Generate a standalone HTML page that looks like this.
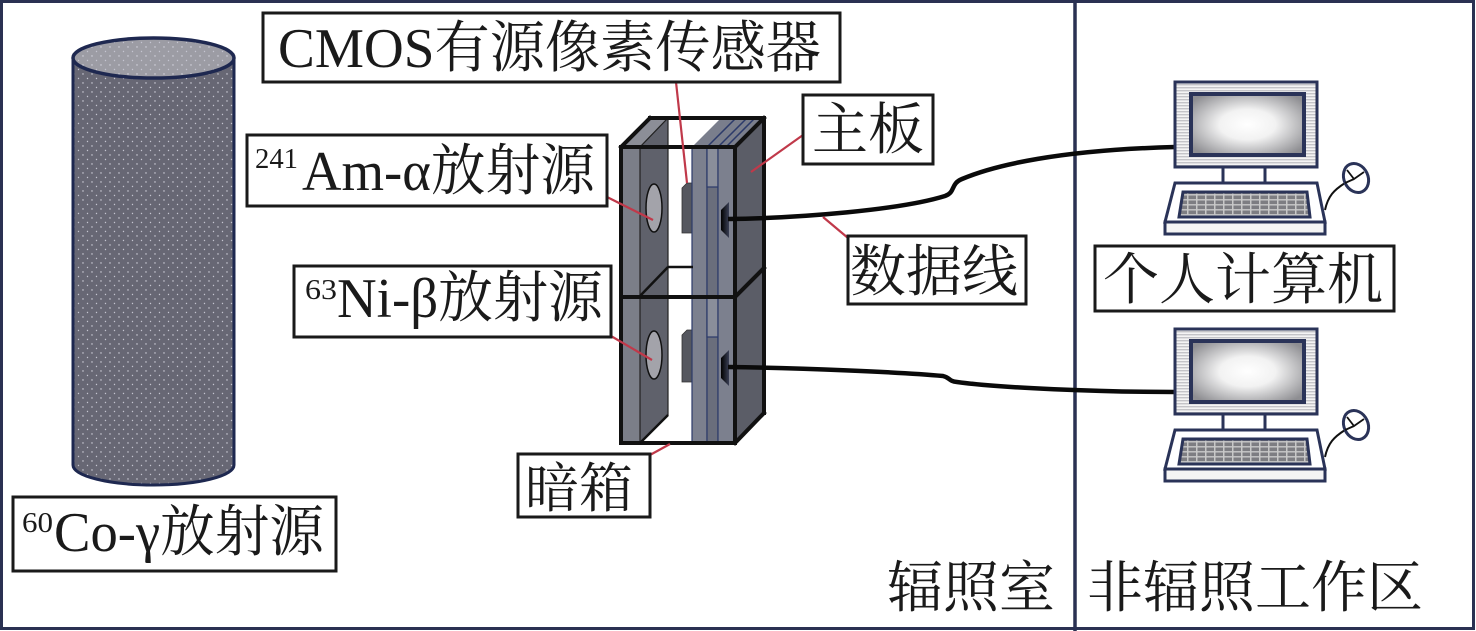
<!DOCTYPE html>
<html><head><meta charset="utf-8"><style>
html,body{margin:0;padding:0;background:#fff;}
svg{display:block;}
text{font-family:"Liberation Serif","Noto Serif CJK SC","Noto Serif CJK JP","Noto Serif CJK TC",serif;fill:#1a1a1a;}
</style></head><body>
<svg width="1476" height="631" viewBox="0 0 1476 631" xmlns="http://www.w3.org/2000/svg">
<defs>
<pattern id="dots" width="9" height="9" patternUnits="userSpaceOnUse">
<circle cx="2" cy="2" r="0.7" fill="#d8d8e2"/>
<circle cx="6.5" cy="6.5" r="0.7" fill="#c4c4d0"/>
</pattern>
<pattern id="stripes" width="4" height="3" patternUnits="userSpaceOnUse">
<rect width="4" height="3" fill="#f4f4f4"/>
<rect y="0" width="4" height="1.4" fill="#c4c4c8"/>
</pattern>
<pattern id="keys" width="9" height="5" patternUnits="userSpaceOnUse">
<rect width="9" height="5" fill="#c8c8c8"/>
<rect x="0.5" y="0.5" width="7.5" height="3.6" fill="#7d7d82"/>
</pattern>
<radialGradient id="scr" cx="0.5" cy="0.5" r="0.62">
<stop offset="0" stop-color="#ffffff"/>
<stop offset="0.4" stop-color="#f2f2f2"/>
<stop offset="1" stop-color="#8e8e92"/>
</radialGradient>
<linearGradient id="port" x1="0" x2="1" y1="0" y2="0">
<stop offset="0" stop-color="#000"/>
<stop offset="1" stop-color="#3a3f55"/>
</linearGradient>
</defs>

<!-- outer frame -->
<rect x="1.5" y="1.5" width="1472" height="627" fill="none" stroke="#2a3152" stroke-width="3"/>
<line x1="1075" y1="0" x2="1075" y2="631" stroke="#2a3152" stroke-width="3.5"/>

<!-- cylinder -->
<path d="M73,58 L73,465 A80.5,20 0 0 0 234,465 L234,58 Z" fill="#676774"/>
<path d="M73,58 L73,465 A80.5,20 0 0 0 234,465 L234,58 Z" fill="url(#dots)" stroke="#1e2850" stroke-width="3"/>
<ellipse cx="153.5" cy="58" rx="80.5" ry="20" fill="#9c9ca4"/>
<ellipse cx="153.5" cy="58" rx="80.5" ry="20" fill="url(#dots)" stroke="#1e2850" stroke-width="3.5"/>

<!-- dark box -->
<polygon points="621,147 650,118 668,118 640,147" fill="#8c8e97" stroke="#222" stroke-width="1"/>
<rect x="621" y="147" width="19" height="296" fill="#7b7e88" stroke="#222" stroke-width="1"/>
<polygon points="640,147 668,118 668,415 640,443" fill="#5f616b" stroke="#222" stroke-width="1.2"/>
<ellipse cx="654" cy="208" rx="8" ry="24" fill="#a3a3aa" stroke="#111" stroke-width="1.5"/>
<ellipse cx="654" cy="355" rx="8" ry="24" fill="#a3a3aa" stroke="#111" stroke-width="1.5"/>
<polygon points="682,188 687,183 693,183 693,233 682,233" fill="#55575f" stroke="#333" stroke-width="0.8"/>
<polygon points="682,335 687,330 693,330 693,382 682,382" fill="#55575f" stroke="#333" stroke-width="0.8"/>
<polygon points="692,147 721,118 764,118 735,147" fill="#7a7e8c"/>
<line x1="707" y1="147" x2="736" y2="118" stroke="#2c3a6a" stroke-width="1.5"/>
<line x1="718" y1="147" x2="747" y2="118" stroke="#2c3a6a" stroke-width="1.5"/>
<line x1="726" y1="147" x2="755" y2="118" stroke="#2c3a6a" stroke-width="1.5"/>
<rect x="692" y="147" width="15" height="296" fill="#7c808e" stroke="#2c3a6a" stroke-width="1.2"/>
<rect x="707" y="147" width="11" height="296" fill="#6a6e7c" stroke="#2c3a6a" stroke-width="1.2"/>
<rect x="707" y="147" width="11" height="40" fill="#8a8e9a" stroke="#2c3a6a" stroke-width="1.2"/>
<rect x="707" y="297" width="11" height="40" fill="#8a8e9a" stroke="#2c3a6a" stroke-width="1.2"/>
<rect x="718" y="147" width="17" height="296" fill="#7c808e" stroke="#2c3a6a" stroke-width="1.2"/>
<polygon points="735,147 764,118 764,413 735,443" fill="#5b5d67"/>
<polygon points="721,210 729,202 729,238 721,230" fill="url(#port)"/>
<polygon points="721,358 729,350 729,386 721,378" fill="url(#port)"/>
<g stroke="#111" stroke-width="4" fill="none" stroke-linecap="square">
<rect x="621" y="147" width="114" height="296"/>
<line x1="650" y1="118" x2="764" y2="118"/>
<line x1="621" y1="147" x2="650" y2="118"/>
<line x1="735" y1="147" x2="764" y2="118"/>
<line x1="764" y1="118" x2="764" y2="413"/>
<line x1="735" y1="443" x2="764" y2="413"/>
<line x1="621" y1="297" x2="735" y2="297"/>
<line x1="735" y1="297" x2="764" y2="268"/>
</g>
<g stroke="#111" stroke-width="2.5" fill="none">
<line x1="640" y1="296" x2="668" y2="267"/>
<line x1="668" y1="267" x2="693" y2="267"/>
<line x1="640" y1="443" x2="668" y2="415"/>
</g>

<!-- cables -->
<path d="M728,219 C800,218 900,210 945,196 C956,192 950,184 962,179 C995,165 1060,150 1175,147" fill="none" stroke="#0a0a0a" stroke-width="4.5"/>
<path d="M728,367 C800,368 900,372 943,376 C951,378 948,381 957,382 C1000,388 1100,392 1175,392" fill="none" stroke="#0a0a0a" stroke-width="4.5"/>

<!-- leader lines -->
<g stroke="#c0394a" stroke-width="2.2">
<line x1="676" y1="82" x2="687" y2="183"/>
<line x1="751" y1="172" x2="803" y2="135"/>
<line x1="607" y1="197" x2="653" y2="220"/>
<line x1="611" y1="336" x2="652" y2="360"/>
<line x1="650" y1="455" x2="670" y2="444"/>
<line x1="823" y1="217" x2="848" y2="238"/>
</g>

<!-- computers -->
<g id="pc1">
<rect x="1175" y="82" width="142" height="85" fill="url(#stripes)" stroke="#2a3358" stroke-width="3"/>
<rect x="1191" y="94" width="113" height="61" fill="url(#scr)" stroke="#2a3358" stroke-width="4"/>
<line x1="1223" y1="167" x2="1223" y2="183" stroke="#2a3358" stroke-width="3"/>
<line x1="1265" y1="167" x2="1265" y2="183" stroke="#2a3358" stroke-width="3"/>
<polygon points="1175,183 1317,183 1325,222 1165,222" fill="#fff" stroke="#2a3358" stroke-width="3"/>
<rect x="1165" y="222" width="160" height="12" fill="#f4f4f4" stroke="#2a3358" stroke-width="3"/>
<polygon points="1183,192 1307,192 1310,217 1179,217" fill="url(#keys)" stroke="#2a3358" stroke-width="3"/>
<path d="M1325,210 C1328,196 1334,190 1345,183" fill="none" stroke="#111" stroke-width="2"/>
<ellipse cx="1356" cy="178" rx="12" ry="15" transform="rotate(-25 1356 178)" fill="#fff" stroke="#2a3358" stroke-width="3"/>
<path d="M1347,170 L1354,179 L1364,172 M1354,179 L1345,183" fill="none" stroke="#111" stroke-width="1.8"/>
</g>
<use href="#pc1" transform="translate(0,247)"/>

<!-- labels -->
<g fill="#fff" stroke="#1a1a1a" stroke-width="3">
<rect x="263" y="13" width="577" height="69"/>
<rect x="247" y="135" width="360" height="71"/>
<rect x="294" y="266" width="317" height="71"/>
<rect x="803" y="95" width="130" height="69"/>
<rect x="848" y="236" width="178" height="68"/>
<rect x="1095" y="246" width="299" height="65"/>
<rect x="518" y="454" width="132" height="63"/>
<rect x="13" y="497" width="323" height="74"/>
</g>

<text x="278" y="67" font-size="56" textLength="543" lengthAdjust="spacingAndGlyphs">CMOS有源像素传感器</text>
<text x="255" y="168" font-size="28" textLength="43" lengthAdjust="spacingAndGlyphs">241</text>
<text x="302" y="190" font-size="56" textLength="293" lengthAdjust="spacingAndGlyphs">Am-α放射源</text>
<text x="305" y="299" font-size="28" textLength="32" lengthAdjust="spacingAndGlyphs">63</text>
<text x="337" y="317" font-size="56" textLength="266" lengthAdjust="spacingAndGlyphs">Ni-β放射源</text>
<text x="22" y="532" font-size="28" textLength="31" lengthAdjust="spacingAndGlyphs">60</text>
<text x="54" y="551" font-size="56" textLength="270" lengthAdjust="spacingAndGlyphs">Co-γ放射源</text>
<text x="812" y="149" font-size="56">主板</text>
<text x="850" y="291" font-size="56">数据线</text>
<text x="1103" y="299" font-size="56">个人计算机</text>
<text x="525" y="507" font-size="54">暗箱</text>
<text x="887" y="607" font-size="56">辐照室</text>
<text x="1087" y="607" font-size="56">非辐照工作区</text>
</svg>
</body></html>
